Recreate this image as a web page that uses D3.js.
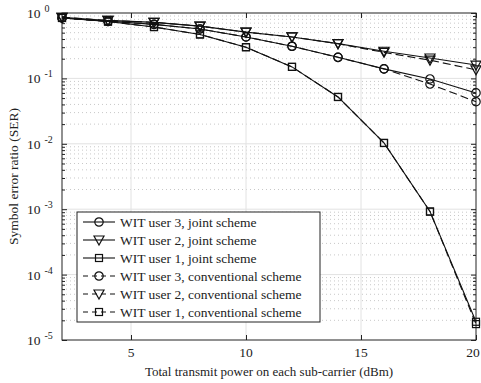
<!DOCTYPE html>
<html>
<head>
<meta charset="utf-8">
<script src="https://cdn.jsdelivr.net/npm/d3@7"></script>
<style>
body { margin: 0; background: #fff; }
</style>
</head>
<body>
<svg id="chart" width="481" height="383"></svg>
<script>
// power values (dBm)
var power = [2, 4, 6, 8, 10, 12, 14, 16, 18, 20];
var xTicks = [5, 10, 15, 20];
var yTicks = [1, 1e-1, 1e-2, 1e-3, 1e-4, 1e-5];
var yTickExp = ['0', '-1', '-2', '-3', '-4', '-5'];

var user3Joint = [0.84, 0.75, 0.67, 0.57, 0.43, 0.31, 0.21, 0.14, 0.098, 0.06];
var user2Joint = [0.86, 0.77, 0.72, 0.63, 0.51, 0.43, 0.34, 0.26, 0.205, 0.16];
var user1Joint = [0.84, 0.74, 0.61, 0.47, 0.30, 0.15, 0.052, 0.0103, 0.00092, 0.000019];
var user3Conv = [0.84, 0.75, 0.67, 0.57, 0.43, 0.31, 0.21, 0.14, 0.082, 0.044];
var user2Conv = [0.86, 0.77, 0.72, 0.63, 0.51, 0.43, 0.34, 0.25, 0.19, 0.135];
var user1Conv = [0.84, 0.74, 0.61, 0.47, 0.30, 0.15, 0.052, 0.0103, 0.00092, 0.0000175];

var legendLabels = ['WIT user 3, joint scheme', 'WIT user 2, joint scheme', 'WIT user 1, joint scheme',
	'WIT user 3, conventional scheme', 'WIT user 2, conventional scheme', 'WIT user 1, conventional scheme'];

var series = [
	{ vals: user3Joint, mk: 'circle', dash: null },
	{ vals: user2Joint, mk: 'tri', dash: null },
	{ vals: user1Joint, mk: 'square', dash: null },
	{ vals: user3Conv, mk: 'circle', dash: '8,4' },
	{ vals: user2Conv, mk: 'tri', dash: '8,4' },
	{ vals: user1Conv, mk: 'square', dash: '8,4' }
];

var FONT = "'Liberation Serif', 'Times New Roman', serif";
var L = 62, R = 476, T = 13, B = 340;
var svg = d3.select('#chart');
var x = d3.scaleLinear().domain([2, 20]).range([L, R]);
var y = d3.scaleLog().domain([1e-5, 1]).range([B, T]);

// minor values in each decade
var minors = [];
for (var e = -5; e < 0; e++) {
	for (var m = 2; m < 10; m++) minors.push(m * Math.pow(10, e));
}

var grid = svg.append('g');
grid.selectAll('line.mn').data(minors).enter().append('line')
	.attr('x1', L).attr('x2', R)
	.attr('y1', function(d) { return y(d); }).attr('y2', function(d) { return y(d); })
	.attr('stroke', '#c8c8c8').attr('stroke-width', 1).attr('stroke-dasharray', '1,3');
grid.selectAll('line.mj').data(yTicks.slice(1, 5)).enter().append('line')
	.attr('x1', L).attr('x2', R)
	.attr('y1', function(d) { return y(d); }).attr('y2', function(d) { return y(d); })
	.attr('stroke', '#e2e2e2').attr('stroke-width', 1);
grid.selectAll('line.vx').data([5, 10, 15]).enter().append('line')
	.attr('y1', T).attr('y2', B)
	.attr('x1', function(d) { return x(d); }).attr('x2', function(d) { return x(d); })
	.attr('stroke', '#e2e2e2').attr('stroke-width', 1);

// axes with inward ticks
var ax = svg.append('g');
ax.append('g').attr('transform', 'translate(0,' + B + ')')
	.call(d3.axisBottom(x).tickValues(xTicks).tickSizeInner(-5).tickSizeOuter(0).tickFormat(''));
ax.append('g').attr('transform', 'translate(0,' + T + ')')
	.call(d3.axisTop(x).tickValues(xTicks).tickSizeInner(-5).tickSizeOuter(0).tickFormat(''));
ax.append('g').attr('transform', 'translate(' + L + ',0)')
	.call(d3.axisLeft(y).tickValues(yTicks).tickSizeInner(-5).tickSizeOuter(0).tickFormat(''));
ax.append('g').attr('transform', 'translate(' + R + ',0)')
	.call(d3.axisRight(y).tickValues(yTicks).tickSizeInner(-5).tickSizeOuter(0).tickFormat(''));
ax.append('g').attr('transform', 'translate(' + L + ',0)')
	.call(d3.axisLeft(y).tickValues(minors).tickSizeInner(-3).tickSizeOuter(0).tickFormat(''));
ax.append('g').attr('transform', 'translate(' + R + ',0)')
	.call(d3.axisRight(y).tickValues(minors).tickSizeInner(-3).tickSizeOuter(0).tickFormat(''));
ax.selectAll('.domain').remove();
ax.selectAll('text').remove();
ax.selectAll('line').attr('stroke', '#222');
svg.append('rect').attr('x', L).attr('y', T).attr('width', R - L).attr('height', B - T)
	.attr('fill', 'none').attr('stroke', '#222').attr('stroke-width', 1);

// tick labels (last one pulled in so it stays on the page)
svg.selectAll('text.xt').data(xTicks).enter().append('text')
	.attr('x', function(d) { return Math.min(x(d), 473); }).attr('y', B + 17)
	.attr('text-anchor', 'middle').attr('font-size', 13.5).text(function(d) { return d; });
var yl = svg.selectAll('text.yt').data(yTicks).enter().append('text')
	.attr('x', 27).attr('y', function(d) { return y(d) + 5; })
	.attr('font-size', 13.5);
yl.append('tspan').text('10');
yl.append('tspan').attr('dx', 4).attr('dy', -6).attr('font-size', 10)
	.text(function(d, i) { return yTickExp[i]; });

svg.append('text').attr('x', 269).attr('y', 376).attr('text-anchor', 'middle')
	.attr('font-size', 13).text('Total transmit power on each sub-carrier (dBm)');
svg.append('text').attr('transform', 'translate(18,' + ((T + B) / 2) + ') rotate(-90)')
	.attr('text-anchor', 'middle').attr('font-size', 13.5).text('Symbol error ratio (SER)');

function marker(g, type) {
	if (type == 'circle') {
		g.append('circle').attr('r', 4.2);
	} else if (type == 'tri') {
		g.append('path').attr('d', 'M-5,-4L5,-4L0,5Z');
	} else {
		g.append('rect').attr('x', -3.5).attr('y', -3.5).attr('width', 7).attr('height', 7);
	}
	g.selectAll('*').attr('fill', 'none').attr('stroke', '#111').attr('stroke-width', 1.2);
}

var line = d3.line().x(function(d, i) { return x(power[i]); }).y(function(d) { return y(d); });
var plot = svg.append('g');
series.forEach(function(s) {
	plot.append('path').datum(s.vals).attr('d', line)
		.attr('fill', 'none').attr('stroke', '#111').attr('stroke-width', 1.1)
		.attr('stroke-dasharray', s.dash);
	s.vals.forEach(function(v, i) {
		var g = plot.append('g').attr('transform', 'translate(' + x(power[i]) + ',' + y(v) + ')');
		marker(g, s.mk);
	});
});

// legend
var lx = 77, ly = 212, lw = 243, lh = 110;
var leg = svg.append('g');
leg.append('rect').attr('x', lx).attr('y', ly).attr('width', lw).attr('height', lh)
	.attr('fill', '#fff').attr('stroke', '#222').attr('stroke-width', 1);
series.forEach(function(s, i) {
	var cy = ly + 10 + i * 18;
	leg.append('line').attr('x1', lx + 6).attr('x2', lx + 38).attr('y1', cy).attr('y2', cy)
		.attr('stroke', '#111').attr('stroke-width', 1.1).attr('stroke-dasharray', s.dash ? '5,4' : null);
	marker(leg.append('g').attr('transform', 'translate(' + (lx + 22) + ',' + cy + ')'), s.mk);
	leg.append('text').attr('x', lx + 43).attr('y', cy + 4.5).attr('font-size', 13.5).text(legendLabels[i]);
});

svg.selectAll('text').style('font-family', FONT).style('fill', '#222');
</script>
</body>
</html>
